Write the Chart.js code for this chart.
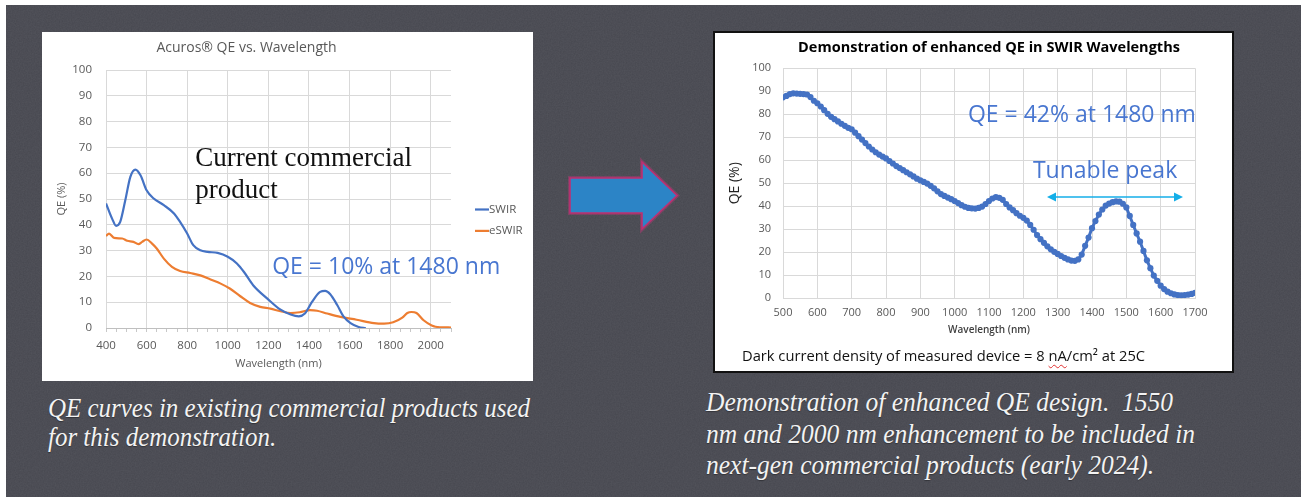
<!DOCTYPE html>
<html>
<head>
<meta charset="utf-8">
<script src="https://cdn.jsdelivr.net/npm/chart.js@4.4.1/dist/chart.umd.min.js"></script>
<style>
  html, body { margin: 0; padding: 0; width: 1301px; height: 497px; overflow: hidden; background: #ffffff; }
  #slide {
    position: absolute; left: 6px; top: 5px; right: 0; bottom: 0;
    background-color: #46474f;
    background-image: url("data:image/svg+xml;utf8,<svg xmlns='http://www.w3.org/2000/svg' width='320' height='320'><filter id='n'><feTurbulence type='fractalNoise' baseFrequency='0.75' numOctaves='2' stitchTiles='stitch'/><feColorMatrix values='0 0 0 0 1 0 0 0 0 1 0 0 0 0 1 0 0 0 0.07 0'/></filter><rect width='100%' height='100%' filter='url(%23n)'/></svg>");
  }
  #leftPanel { position: absolute; left: 42px; top: 32px; width: 491px; height: 349px; background: #ffffff; }
  #rightPanel { position: absolute; left: 713px; top: 31px; width: 521px; height: 342px; box-sizing: border-box; border: 2px solid #111111; background: #ffffff; }
  canvas { display: block; }
  #arrow { position: absolute; left: 560px; top: 150px; }
  #footer {
    position: absolute; left: 742px; top: 346px; white-space: nowrap;
    font-family: "Open Sans", sans-serif; font-size: 14.7px; line-height: 19px; color: #111111;
  }
  #footer .spell { text-decoration: underline wavy #e03030; text-decoration-thickness: 1px; text-underline-offset: 3px; }
  .caption { position: absolute; color: #f3f3f3; font-family: "Liberation Serif", serif; font-style: italic; font-size: 27px; white-space: nowrap; text-shadow: 0 1px 1px rgba(0,0,0,0.35); }
  .caption div { position: absolute; left: 0; line-height: 30px; transform-origin: 0 50%; }
</style>
</head>
<body>
<div id="slide"></div>
<div id="leftPanel"><canvas id="leftChart" width="491" height="349"></canvas></div>

<svg id="arrow" width="130" height="95" viewBox="560 150 130 95">
  <polygon points="570,178 642,178 642,162 677,195.5 642,229 642,213 570,213"
           fill="none" stroke="#d2357f" stroke-width="4" stroke-opacity="0.35" stroke-linejoin="miter"/>
  <polygon points="570,178 642,178 642,162 677,195.5 642,229 642,213 570,213"
           fill="#2c84c6" stroke="#c02f72" stroke-width="1.6" stroke-linejoin="miter"/>
</svg>

<div id="rightPanel"><canvas id="rightChart" width="517" height="338"></canvas></div>
<div id="footer">Dark current density of measured device = 8 <span class="spell">nA</span>/cm² at 25C</div>

<div class="caption" id="cap1" style="left:48px; top:0;">
  <div style="top:393px;" data-w="482">QE curves in existing commercial products used</div>
  <div style="top:422px;">for this demonstration.</div>
</div>
<div class="caption" id="cap2" style="left:706px; top:0;">
  <div style="top:387px;">Demonstration of enhanced QE design.&nbsp; 1550</div>
  <div style="top:419px;" data-w="489">nm and 2000 nm enhancement to be included in</div>
  <div style="top:450px;">next-gen commercial products (early 2024).</div>
</div>

<script>
// ---- Acuros detector curves (left chart) ----
const leftTitle = 'Acuros® QE vs. Wavelength';
const swirNm  = [400, 430, 450, 470, 495, 520, 545, 570, 600, 635, 685, 735, 765, 800, 830, 865, 900, 950, 1000, 1045, 1080, 1125, 1195, 1260, 1310, 1350, 1380, 1415, 1455, 1480, 1505, 1540, 1570, 1605, 1645, 1680];
const swirQE  = [48.3, 42.4, 39.6, 41.1, 49.5, 58.6, 61.4, 59.2, 53.4, 50.2, 47.6, 44.4, 41.1, 36.6, 32.1, 30.1, 29.5, 29.1, 27.6, 25.0, 21.7, 16.6, 11.4, 7.1, 5.2, 4.5, 5.6, 10.1, 14.0, 14.4, 13.1, 8.8, 4.5, 1.9, 0.4, 0.0];
const eswirNm = [400, 415, 440, 480, 505, 535, 560, 578, 600, 627, 650, 685, 725, 765, 815, 865, 915, 965, 1010, 1060, 1110, 1160, 1210, 1260, 1310, 1355, 1405, 1440, 1490, 1555, 1635, 1720, 1770, 1815, 1860, 1885, 1905, 1930, 1965, 2005, 2045, 2100];
const eswirQE = [35.7, 36.6, 34.9, 34.7, 33.8, 33.4, 32.5, 33.4, 34.3, 32.7, 30.8, 26.9, 23.7, 22.1, 21.3, 20.4, 18.8, 17.2, 15.3, 12.4, 9.7, 8.2, 7.5, 6.5, 5.8, 6.1, 6.9, 6.7, 5.6, 4.3, 3.2, 1.9, 1.7, 2.2, 4.0, 5.8, 6.2, 5.8, 3.0, 1.0, 0.3, 0.2];
const leftXRange = [400, 2100];
const leftMajorStep = 200;
const leftMinorStep = 50;
const leftLastLabel = 2000;

// ---- Enhanced-QE demonstration device (right chart), 10 nm sampling ----
const rightTitle = 'Demonstration of enhanced QE in SWIR Wavelengths';
const enhancedNm = Array.from({ length: 121 }, (_, i) => 500 + 10 * i);
const enhancedQE = [
  87.4, 88.0, 88.8, 89.1, 89.0, 88.9, 88.8, 88.6, 87.5, 85.9,   // 500-590
  84.8, 83.4, 81.8, 80.2, 78.9, 77.9, 76.9, 75.9, 75.0, 74.1,   // 600-690
  73.5, 72.0, 70.5, 69.0, 67.5, 66.0, 64.7, 63.5, 62.5, 61.6,   // 700-790
  60.8, 59.7, 58.6, 57.5, 56.6, 55.7, 54.8, 53.9, 53.0, 52.0,   // 800-890
  51.3, 50.6, 49.9, 48.9, 47.8, 46.5, 45.3, 44.5, 43.8, 43.1,   // 900-990
  42.3, 41.4, 40.5, 39.8, 39.3, 39.1, 39.0, 39.3, 39.9, 41.0,   // 1000-1090
  42.3, 43.4, 44.0, 43.7, 42.8, 41.0, 39.5, 38.3, 37.0, 35.9,   // 1100-1190
  35.0, 33.8, 31.9, 29.8, 27.5, 25.7, 24.1, 22.6, 21.3, 20.2,   // 1200-1290
  19.3, 18.4, 17.6, 16.9, 16.4, 16.3, 16.9, 19.0, 22.8, 26.4,   // 1300-1390
  30.5, 33.6, 36.4, 38.6, 40.3, 41.2, 41.8, 42.1, 42.0, 41.1,   // 1400-1490
  39.5, 35.8, 31.9, 28.2, 24.6, 20.6, 16.5, 13.1, 9.9, 7.6,     // 1500-1590
  5.5, 4.0, 2.9, 2.2, 1.7, 1.4, 1.3, 1.4, 1.6, 1.9,             // 1600-1690
  2.4                                                           // 1700
];
const rightXRange = [500, 1700];
const rightXStep = 100;
const highlightNm = 1480;
const tunableSpanNm = [1269, 1665];
const qeRange = [0, 100];
const qeStep = 10;

const tickGray = '#595959';
const gridGray = '#d9d9d9';
const calloutBlue = '#4876d0';
const font = (size, weight) => ({ family: '"Open Sans", sans-serif', size, weight: weight || 'normal' });
const plainNumber = v => String(v);

// Free-standing text placed in data coordinates
const textNotes = {
  id: 'textNotes',
  afterDatasetsDraw(chart, args, opts) {
    const { ctx, scales: { x, y } } = chart;
    (opts.items || []).forEach(n => {
      ctx.save();
      ctx.font = n.font;
      ctx.fillStyle = n.color;
      ctx.textAlign = 'left';
      ctx.textBaseline = 'middle';
      const px = x.getPixelForValue(n.x);
      const py = y.getPixelForValue(n.y);
      n.lines.forEach((t, i) => ctx.fillText(t, px, py + i * (n.lineHeight || 0)));
      ctx.restore();
    });
  }
};

// Double-headed arrow spanning a wavelength range
const spanArrow = {
  id: 'spanArrow',
  afterDatasetsDraw(chart, args, o) {
    if (!o.from) return;
    const { ctx, scales: { x, y } } = chart;
    const x1 = x.getPixelForValue(o.from), x2 = x.getPixelForValue(o.to), py = y.getPixelForValue(o.at);
    const hl = 9, hw = 4.5;
    ctx.save();
    ctx.strokeStyle = o.color; ctx.fillStyle = o.color; ctx.lineWidth = 1.5;
    ctx.beginPath(); ctx.moveTo(x1 + hl - 1, py); ctx.lineTo(x2 - hl + 1, py); ctx.stroke();
    ctx.beginPath(); ctx.moveTo(x1, py); ctx.lineTo(x1 + hl, py - hw); ctx.lineTo(x1 + hl, py + hw); ctx.closePath(); ctx.fill();
    ctx.beginPath(); ctx.moveTo(x2, py); ctx.lineTo(x2 - hl, py - hw); ctx.lineTo(x2 - hl, py + hw); ctx.closePath(); ctx.fill();
    ctx.restore();
  }
};

// Compact legend to the right of the plot: short line then label
const sideLegend = {
  id: 'sideLegend',
  afterDraw(chart, args, o) {
    if (!o.display) return;
    const { ctx, chartArea } = chart;
    chart.data.datasets.forEach((ds, i) => {
      const x0 = chartArea.right + o.offsetX;
      const y0 = chartArea.top + o.offsetY + i * o.rowGap;
      ctx.save();
      ctx.strokeStyle = ds.borderColor; ctx.lineWidth = 2.2;
      ctx.beginPath(); ctx.moveTo(x0, y0); ctx.lineTo(x0 + o.lineLen, y0); ctx.stroke();
      ctx.fillStyle = o.color; ctx.font = o.font; ctx.textBaseline = 'middle'; ctx.textAlign = 'left';
      ctx.fillText(ds.label, x0 + o.lineLen, y0);
      ctx.restore();
    });
  }
};

const pts = (xs, ys) => xs.map((x, i) => ({ x, y: ys[i] }));
const isMajor = v => Math.abs(v % leftMajorStep) < 1e-6 && v <= leftLastLabel;

new Chart(document.getElementById('leftChart'), {
  type: 'line',
  data: {
    datasets: [
      { label: 'SWIR', data: pts(swirNm, swirQE), borderColor: '#4472c4', borderWidth: 2.2, pointRadius: 0, cubicInterpolationMode: 'monotone', fill: false },
      { label: 'eSWIR', data: pts(eswirNm, eswirQE), borderColor: '#ed7d31', borderWidth: 2.2, pointRadius: 0, cubicInterpolationMode: 'monotone', fill: false }
    ]
  },
  options: {
    responsive: false, animation: false, devicePixelRatio: 1,
    layout: { padding: { left: 0, right: 82, top: 0, bottom: 0 } },
    plugins: {
      legend: { display: false },
      tooltip: { enabled: false },
      title: { display: true, text: leftTitle, color: tickGray, font: font(14), padding: { top: 7.6, bottom: 13.6 } },
      sideLegend: { display: true, offsetX: 24, offsetY: 139.5, rowGap: 21.4, lineLen: 14, color: tickGray, font: '11.5px "Open Sans", sans-serif' },
      textNotes: { items: [
        { x: 840, y: 65.5, lines: ['Current commercial', 'product'], lineHeight: 31.5, font: '27px "Liberation Serif", serif', color: '#111111' },
        { x: 1219, y: 23.6, lines: ['QE = 10% at 1480 nm'], font: '23px "Open Sans", sans-serif', color: calloutBlue }
      ] }
    },
    scales: {
      x: {
        type: 'linear', min: leftXRange[0], max: leftXRange[1],
        afterFit: s => { s.height = 53; },
        ticks: { stepSize: leftMinorStep, autoSkip: false, maxRotation: 0, padding: 7, color: tickGray, font: font(11.5),
                 callback: v => isMajor(v) ? String(v) : '' },
        grid: { color: c => (c.tick && isMajor(c.tick.value)) ? gridGray : 'rgba(0,0,0,0)', drawTicks: true, tickLength: 4, tickColor: '#c8c8c8' },
        border: { display: true, color: '#bfbfbf', width: 1 },
        title: { display: true, text: 'Wavelength (nm)', color: tickGray, font: font(11), padding: { top: 0, bottom: 10.4 } }
      },
      y: {
        min: qeRange[0], max: qeRange[1],
        afterFit: s => { s.width = 64; },
        ticks: { stepSize: qeStep, padding: 14, color: tickGray, font: font(11.5), callback: plainNumber },
        grid: { color: gridGray, drawTicks: false },
        border: { display: false },
        title: { display: true, text: 'QE (%)', color: tickGray, font: font(11), padding: { top: 13.4, bottom: 0 } }
      }
    }
  },
  plugins: [sideLegend, textNotes]
});

const qeAtHighlight = enhancedQE[enhancedNm.indexOf(highlightNm)];

new Chart(document.getElementById('rightChart'), {
  type: 'line',
  data: {
    datasets: [
      { label: 'QE', data: pts(enhancedNm, enhancedQE), borderColor: '#4472c4', borderWidth: 3,
        pointRadius: 3.1, pointBackgroundColor: '#4472c4', pointBorderWidth: 0, tension: 0, fill: false }
    ]
  },
  options: {
    responsive: false, animation: false, devicePixelRatio: 1,
    layout: { padding: { left: 0, right: 37, top: 0, bottom: 28 } },
    plugins: {
      legend: { display: false },
      tooltip: { enabled: false },
      title: { display: true, fullSize: false, text: rightTitle, color: '#000000', font: font(14.5, 'bold'), padding: { top: 6.3, bottom: 11.6 } },
      textNotes: { items: [
        { x: 1038.5, y: 79.3, lines: ['QE = ' + qeAtHighlight + '% at ' + highlightNm + ' nm'], font: '23px "Open Sans", sans-serif', color: calloutBlue },
        { x: 1228, y: 55.3, lines: ['Tunable peak'], font: '23px "Open Sans", sans-serif', color: calloutBlue }
      ] },
      spanArrow: { from: tunableSpanNm[0], to: tunableSpanNm[1], at: 44, color: '#14aee8' }
    },
    scales: {
      x: {
        type: 'linear', min: rightXRange[0], max: rightXRange[1],
        afterFit: s => { s.height = 44.7; },
        ticks: { stepSize: rightXStep, autoSkip: false, maxRotation: 0, padding: 8, color: tickGray, font: font(11), callback: plainNumber },
        grid: { color: gridGray, drawTicks: false },
        border: { display: true, color: gridGray },
        title: { display: true, text: 'Wavelength (nm)', color: '#404040', font: font(10, '600'), padding: { top: 0, bottom: 7 } }
      },
      y: {
        min: qeRange[0], max: qeRange[1],
        afterFit: s => { s.width = 68; },
        ticks: { stepSize: qeStep, padding: 12, color: tickGray, font: font(11), callback: plainNumber },
        grid: { color: gridGray, drawTicks: false },
        border: { display: false },
        title: { display: true, text: 'QE (%)', color: '#222222', font: font(14), padding: { top: 11.6, bottom: 0 } }
      }
    }
  },
  plugins: [textNotes, spanArrow]
});

// Condensed italic captions: stretch each block so its reference line spans its set width
document.querySelectorAll('.caption').forEach(block => {
  const lines = Array.from(block.children);
  const ref = lines.find(l => l.dataset.w);
  const k = Number(ref.dataset.w) / ref.getBoundingClientRect().width;
  lines.forEach(l => { l.style.transform = 'scaleX(' + k.toFixed(4) + ')'; });
});
</script>
</body>
</html>
